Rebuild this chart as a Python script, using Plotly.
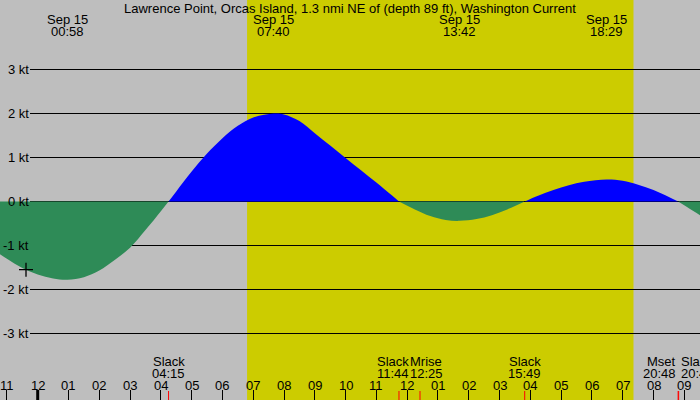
import plotly.graph_objects as go

# --- data -----------------------------------------------------------------
title = "Lawrence Point, Orcas Island, 1.3 nmi NE of (depth 89 ft), Washington Current"

# hours after midnight Sep 15, current speed in knots (flood +, ebb -)
curve_hours = [-1.3, -1.0, -0.5, 0.0, 0.5, 0.967, 1.5, 2.0, 2.5, 3.0, 3.5, 4.0, 4.25,
               4.5, 5.0, 5.5, 6.0, 6.5, 7.0, 7.667, 8.0, 8.5, 9.0, 9.5, 10.0, 10.5,
               11.0, 11.5, 11.733, 12.25, 12.75, 13.25, 13.7, 14.25, 14.75, 15.25,
               15.817, 16.25, 16.75, 17.25, 17.75, 18.483, 19.0, 19.5, 20.0, 20.5,
               20.8, 21.1, 21.6]
curve_knots = [-1.16, -1.30, -1.51, -1.66, -1.75, -1.78, -1.72, -1.57, -1.33, -1.05,
               -0.65, -0.22, 0.0, 0.23, 0.68, 1.09, 1.44, 1.72, 1.91, 2.0, 1.98, 1.83,
               1.55, 1.27, 0.99, 0.71, 0.43, 0.14, 0.0, -0.18, -0.33, -0.42, -0.44,
               -0.40, -0.31, -0.18, 0.0, 0.13, 0.26, 0.37, 0.45, 0.50, 0.47, 0.38,
               0.26, 0.10, 0.0, -0.13, -0.35]

peak_dates = ["Sep 15", "Sep 15", "Sep 15", "Sep 15"]
peak_times = ["00:58", "07:40", "13:42", "18:29"]

event_names = ["Slack", "Slack", "Mrise", "Slack", "Mset", "Slack"]
event_times = ["04:15", "11:44", "12:25", "15:49", "20:48", "20:49"]

sunrise, sunset = "06:48", "19:21"

tick_hours = list(range(-1, 22))
tick_text = ["11", "12", "01", "02", "03", "04", "05", "06", "07", "08", "09", "10",
             "11", "12", "01", "02", "03", "04", "05", "06", "07", "08", "09"]

grid_knots = [-3, -2, -1, 0, 1, 2, 3]
grid_labels = ["-3 kt", "-2 kt", "-1 kt", "0 kt", "1 kt", "2 kt", "3 kt"]

marker_hour, marker_knots = [-0.38], [-1.55]

# --- styling ----------------------------------------------------------------
W, H = 700, 400
XR = [-1.2244, 21.51]
YR = [-4.5114, 4.5795]
FONT = "Liberation Sans"
FS = 13
GREY, YELLOW, BLUE, GREEN = "#bebebe", "#cccc00", "#0000ff", "#2e8b57"
event_shift = [0, -6, 6, 0, None, None]   # pixel nudges to keep labels apart


def hrs(t):
    h, m = t.split(":")
    return int(h) + int(m) / 60


def py(px):
    # pixel row -> paper y
    return 1 - px / H


fig = go.Figure()

# split the curve into flood / ebb lobes
segs, cur = [], [(curve_hours[0], curve_knots[0])]
for h, v in zip(curve_hours[1:], curve_knots[1:]):
    cur.append((h, v))
    if v == 0:
        segs.append(cur)
        cur = [(h, v)]
segs.append(cur)

for s in segs:
    xs = [p[0] for p in s]
    ys = [p[1] for p in s]
    col = BLUE if sum(ys) > 0 else GREEN
    fig.add_trace(go.Scatter(x=xs, y=ys, mode="lines", fill="tozeroy", fillcolor=col,
                             line=dict(width=0, shape="spline", color=col),
                             hoverinfo="skip", showlegend=False))

fig.add_trace(go.Scatter(x=marker_hour, y=marker_knots, mode="markers",
                         marker=dict(symbol="cross-thin", size=10,
                                     line=dict(color="black", width=1.3)),
                         showlegend=False, hoverinfo="skip"))

shapes = [dict(type="rect", xref="x", yref="paper", x0=hrs(sunrise), x1=hrs(sunset),
               y0=0, y1=1, fillcolor=YELLOW, line_width=0, layer="below")]
for g in grid_knots:
    shapes.append(dict(type="line", xref="paper", yref="y", x0=30 / W, x1=1, y0=g, y1=g,
                       line=dict(color="black", width=1), layer="below"))
# thick midnight tick
shapes.append(dict(type="line", xref="x", yref="paper", x0=0, x1=0, y0=0, y1=10 / H,
                   line=dict(color="black", width=3)))
for t in event_times:
    shapes.append(dict(type="line", xref="x", yref="paper", x0=hrs(t), x1=hrs(t),
                       y0=0, y1=9 / H, line=dict(color="red", width=1)))

TXT = dict(showarrow=False, borderpad=0, borderwidth=0)
ann = [dict(text=title, x=0.5, y=py(8), xref="paper", yref="paper",
            xanchor="center", yanchor="middle", **TXT)]
for d, t in zip(peak_dates, peak_times):
    ann.append(dict(text=d, x=hrs(t), y=py(19.5), xref="x", yref="paper",
                    xanchor="center", yanchor="middle", **TXT))
    ann.append(dict(text=t, x=hrs(t), y=py(32), xref="x", yref="paper",
                    xanchor="center", yanchor="middle", **TXT))
for i, (n, t) in enumerate(zip(event_names, event_times)):
    sh = event_shift[i]
    if sh is None:
        xa = "right" if n == "Mset" else "left"
        sh = -2 if n == "Mset" else 2
    else:
        xa = "center"
    for txt, row in ((n, 361.5), (t, 373.8)):
        ann.append(dict(text=txt, x=hrs(t), y=py(row), xref="x", yref="paper",
                        xanchor=xa, yanchor="middle", xshift=sh, **TXT))
# hour labels sit just above the tick marks
for h, lab in zip(tick_hours, tick_text):
    ann.append(dict(text=lab, x=h, y=py(385.5), xref="x", yref="paper",
                    xanchor="center", yanchor="middle", **TXT))
for g, lab in zip(grid_knots, grid_labels):
    ann.append(dict(text=lab, x=28.5 / W, y=g, xref="paper", yref="y",
                    xanchor="right", yanchor="middle", **TXT))

fig.update_layout(
    width=W, height=H, autosize=False,
    margin=dict(l=0, r=0, t=0, b=0),
    paper_bgcolor=GREY, plot_bgcolor=GREY,
    font=dict(family=FONT, size=FS, color="black"),
    shapes=shapes, annotations=ann,
    xaxis=dict(range=XR, showgrid=False, zeroline=False, showline=False,
               tickmode="array", tickvals=tick_hours, ticktext=tick_text,
               ticks="inside", ticklen=10, tickwidth=1, tickcolor="black",
               showticklabels=False),
    yaxis=dict(range=YR, visible=False, showgrid=False, zeroline=False),
)

fig.write_html("out.html", config={"displayModeBar": False},
               post_script="document.body.style.margin='0';")
